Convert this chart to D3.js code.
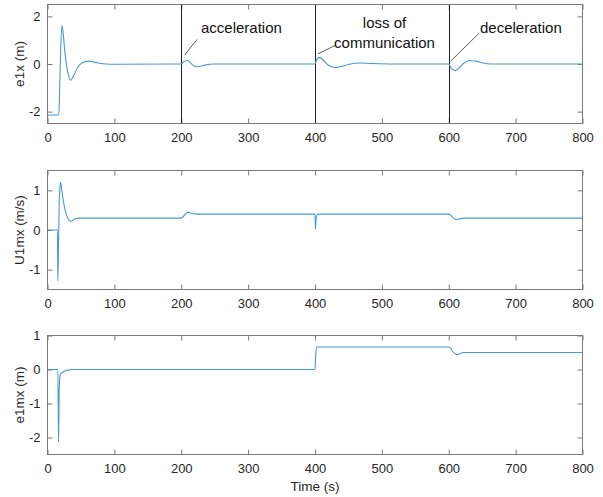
<!DOCTYPE html>
<html>
<head>
<meta charset="utf-8">
<script src="https://cdn.jsdelivr.net/npm/d3@7"></script>
<style>
  body { margin: 0; background: #fff; }
  svg { display: block; font-family: "Liberation Sans", Arial, sans-serif; }
  .tick text { fill: #262626; font-size: 13px; }
  .tick line { stroke: #7a7a7a; }
  .axisLabel { fill: #262626; font-size: 13.5px; }
  .note { fill: #111; font-size: 15px; }
</style>
</head>
<body>
<script>
// ! Values (time in s)
const e1xTime = [0, 0.3, 17, 18, 19.5, 21.5, 23, 26, 30, 34.5, 39, 45, 52, 61, 70, 80, 94,
  200, 203, 206, 209.5, 214, 219, 225, 233, 248,
  400, 402, 406.5, 412, 420, 431, 440, 450, 467, 485, 520,
  600, 603, 609.5, 615, 621, 632, 640, 650, 662, 800];
const e1xValue = [-2.5, -2.14, -2.14, -1.2, 0.4, 1.62, 1.4, 0.5, -0.3, -0.68, -0.5, -0.15, 0.05, 0.12, 0.08, 0.02, -0.01,
  0, 0.08, 0.13, 0.15, 0.05, -0.08, -0.11, -0.06, 0,
  0, 0.15, 0.28, 0.18, -0.05, -0.15, -0.1, -0.02, 0.04, 0.02, 0,
  0, -0.15, -0.28, -0.18, 0, 0.15, 0.12, 0.05, 0, 0];

const u1mxTime = [0, 14.8, 15.5, 16.5, 18, 19.5, 21, 24, 28, 32, 35.5, 40, 47,
  200, 202, 206, 210, 215, 222,
  400, 400.8, 401.6, 403, 406,
  600, 603, 607, 611, 616, 622, 800];
const u1mxValue = [0, 0, -1.28, -0.3, 0.9, 1.2, 1.05, 0.7, 0.4, 0.25, 0.22, 0.27, 0.3,
  0.3, 0.32, 0.4, 0.45, 0.42, 0.4,
  0.4, 0.02, 0.3, 0.38, 0.4,
  0.4, 0.37, 0.3, 0.26, 0.28, 0.3, 0.3];

const e1mxTime = [0, 15.5, 16.5, 17.5, 19, 21, 25, 30, 36,
  400, 401, 402.5,
  600, 603, 607, 612, 617, 622, 800];
const e1mxValue = [0, 0, -2.14, -0.6, -0.15, -0.1, -0.05, -0.02, 0,
  0, 0.4, 0.66,
  0.66, 0.62, 0.5, 0.44, 0.47, 0.5, 0.5];

const xTicks = [0, 100, 200, 300, 400, 500, 600, 700, 800];
const eventTimes = [200, 400, 600];
const noteTexts = [["acceleration"], ["loss of", "communication"], ["deceleration"]];

// ! Page size
const width = 603;
const height = 497;

const svg = d3.select("body").append("svg")
  .attr("width", width)
  .attr("height", height);

const xScale = d3.scaleLinear().domain([0, 800]).range([47.5, 582.5]);

const panels = [
  { label: "e1x (m)", time: e1xTime, value: e1xValue, domain: [-2.5, 2.5], ticks: [-2, 0, 2], top: 4.5, bottom: 123.5 },
  { label: "U1mx (m/s)", time: u1mxTime, value: u1mxValue, domain: [-1.5, 1.5], ticks: [-1, 0, 1], top: 170.5, bottom: 289.5 },
  { label: "e1mx (m)", time: e1mxTime, value: e1mxValue, domain: [-2.5, 1], ticks: [-2, -1, 0, 1], top: 335.5, bottom: 454.5 }
];

const fmt = (d) => (d < 0 ? "-" + (-d) : String(d));

panels.forEach((p, i) => {
  const yScale = d3.scaleLinear().domain(p.domain).range([p.bottom, p.top]);
  const g = svg.append("g");

  // ! Axes with inward ticks on all four sides
  g.append("g")
    .attr("transform", `translate(0, ${p.bottom})`)
    .call(d3.axisBottom(xScale).tickValues(xTicks).tickFormat(fmt).tickSize(-5).tickPadding(9).tickSizeOuter(0))
    .call((a) => a.select(".domain").remove());
  g.append("g")
    .attr("transform", `translate(0, ${p.top})`)
    .call(d3.axisTop(xScale).tickValues(xTicks).tickFormat("").tickSize(-5).tickSizeOuter(0))
    .call((a) => a.select(".domain").remove());
  g.append("g")
    .attr("transform", `translate(${xScale(0)}, 0)`)
    .call(d3.axisLeft(yScale).tickValues(p.ticks).tickFormat(fmt).tickSize(-5).tickPadding(7).tickSizeOuter(0))
    .call((a) => a.select(".domain").remove());
  g.append("g")
    .attr("transform", `translate(${xScale(800)}, 0)`)
    .call(d3.axisRight(yScale).tickValues(p.ticks).tickFormat("").tickSize(-5).tickSizeOuter(0))
    .call((a) => a.select(".domain").remove());

  g.selectAll("g").attr("font-size", null).attr("font-family", null);

  // ! Event markers (top panel only)
  if (i === 0) {
    g.selectAll(".event")
      .data(eventTimes)
      .enter()
      .append("line")
      .attr("x1", (d) => Math.round(xScale(d)) + 0.5)
      .attr("x2", (d) => Math.round(xScale(d)) + 0.5)
      .attr("y1", p.top)
      .attr("y2", p.bottom)
      .attr("stroke", "#1f1f1f")
      .attr("stroke-width", 1);
  }

  // ! Signal
  const pts = p.time.map((t, k) => [t, p.value[k]]);
  g.append("path")
    .datum(pts)
    .attr("fill", "none")
    .attr("stroke", "#4798d6")
    .attr("stroke-width", 1.1)
    .attr("d", d3.line().x((d) => xScale(d[0])).y((d) => yScale(d[1])).curve(d3.curveMonotoneX));

  // ! Box
  g.append("rect")
    .attr("x", xScale(0))
    .attr("y", p.top)
    .attr("width", xScale(800) - xScale(0))
    .attr("height", p.bottom - p.top)
    .attr("fill", "none")
    .attr("stroke", "#7a7a7a")
    .attr("stroke-width", 1);

  // ! Y label
  g.append("text")
    .attr("class", "axisLabel")
    .attr("transform", `translate(24, ${(p.top + p.bottom) / 2}) rotate(-90)`)
    .attr("text-anchor", "middle")
    .text(p.label);

  // ! Annotations
  if (i === 0) {
    const leaders = [
      { from: [205, 0.375], to: [223.5, 1.03] },
      { from: [404, 0.42], to: [431, 0.79] },
      { from: [603, 0.125], to: [645.6, 1.3] }
    ];
    const textPos = [
      { x: 201, y: 32.5, anchor: "start" },
      { x: 384.5, y: 28.3, anchor: "middle" },
      { x: 480, y: 33, anchor: "start" }
    ];
    leaders.forEach((l, k) => {
      g.append("line")
        .attr("x1", xScale(l.from[0])).attr("y1", yScale(l.from[1]))
        .attr("x2", xScale(l.to[0])).attr("y2", yScale(l.to[1]))
        .attr("stroke", "#333").attr("stroke-width", 0.8);
      const t = g.append("text")
        .attr("class", "note")
        .attr("x", textPos[k].x)
        .attr("y", textPos[k].y)
        .attr("text-anchor", textPos[k].anchor);
      noteTexts[k].forEach((s, j) => {
        t.append("tspan").attr("x", textPos[k].x).attr("dy", j === 0 ? 0 : 19.7).text(s);
      });
    });
  }
});

// ! X label
svg.append("text")
  .attr("class", "axisLabel")
  .attr("x", xScale(400))
  .attr("y", 491)
  .attr("text-anchor", "middle")
  .text("Time (s)");
</script>
</body>
</html>
